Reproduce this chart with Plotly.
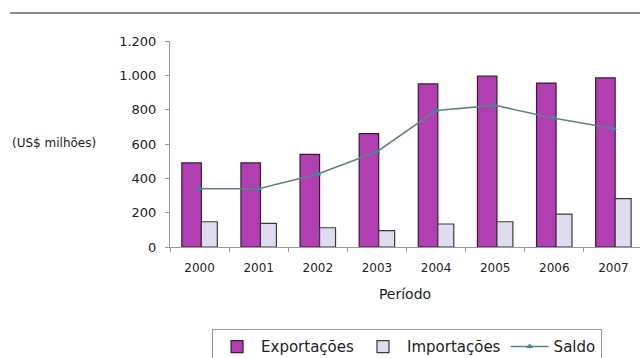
import plotly.graph_objects as go

anos = ["2000", "2001", "2002", "2003", "2004", "2005", "2006", "2007"]
exportacoes = [490, 490, 540, 660, 950, 995, 955, 985]
importacoes = [147, 138, 112, 95, 134, 147, 192, 282]
saldo = [340, 340, 425, 555, 795, 825, 750, 690]
y_ticks = [0, 200, 400, 600, 800, 1000, 1200]

FONT = "DejaVu Sans, Arial, sans-serif"

fig = go.Figure()
fig.add_trace(go.Bar(
    x=anos, y=exportacoes, name="Exportações",
    width=0.33, offset=-0.30,
    marker=dict(color="#b23fb2", line=dict(color="#3a1a3a", width=1.2)),
))
fig.add_trace(go.Bar(
    x=anos, y=importacoes, name="Importações",
    width=0.27, offset=0.03,
    marker=dict(color="#e0dcef", line=dict(color="#3a3a3a", width=1.2)),
))
fig.add_trace(go.Scatter(
    x=anos, y=saldo, name="Saldo", mode="lines+markers",
    line=dict(color="#5f8286", width=1.5),
    marker=dict(symbol="triangle-up", size=6, color="#2e8c9c"),
))

fig.update_layout(
    width=640, height=358,
    margin=dict(l=170, r=0, t=41, b=111),
    paper_bgcolor="white", plot_bgcolor="white",
    barmode="overlay",
    separators=",.",
    font=dict(family=FONT, color="#333333", size=11),
    showlegend=True,
    legend=dict(
        orientation="h", xref="container", yref="container",
        x=0.636, xanchor="center", y=0.08, yanchor="top",
        font=dict(size=15, color="#222222"),
        bordercolor="#999999", borderwidth=1,
        traceorder="normal", itemwidth=38,
    ),
    xaxis=dict(
        type="category", range=[-0.5, 7.45],
        showline=True, linecolor="#999999", linewidth=1,
        ticks="outside", ticklen=4, tickcolor="#999999", tickson="boundaries",
        ticklabelstandoff=10,
        showgrid=False, tickfont=dict(size=12, color="#222222"),
        title=dict(text="Período", font=dict(size=14, color="#222222"), standoff=14),
    ),
    yaxis=dict(
        range=[0, 1200], tickvals=y_ticks, tickformat=",d",
        showline=True, linecolor="#999999", linewidth=1,
        ticks="outside", ticklen=4, tickcolor="#999999",
        ticklabelstandoff=6,
        showgrid=False, zeroline=False,
        tickfont=dict(size=13, color="#222222"),
    ),
    shapes=[dict(
        type="line", xref="paper", yref="paper",
        x0=(10 - 170) / 470, x1=1.0, y0=(247 - 13) / 206, y1=(247 - 13) / 206,
        line=dict(color="#8a8a8a", width=2),
    )],
    annotations=[dict(
        text="(US$ milhões)", xref="paper", yref="paper",
        x=(10 - 170) / 470, y=(247 - 143) / 206,
        xanchor="left", yanchor="middle", showarrow=False,
        font=dict(size=12, color="#222222"),
    )],
)

fig.write_html("out.html")
